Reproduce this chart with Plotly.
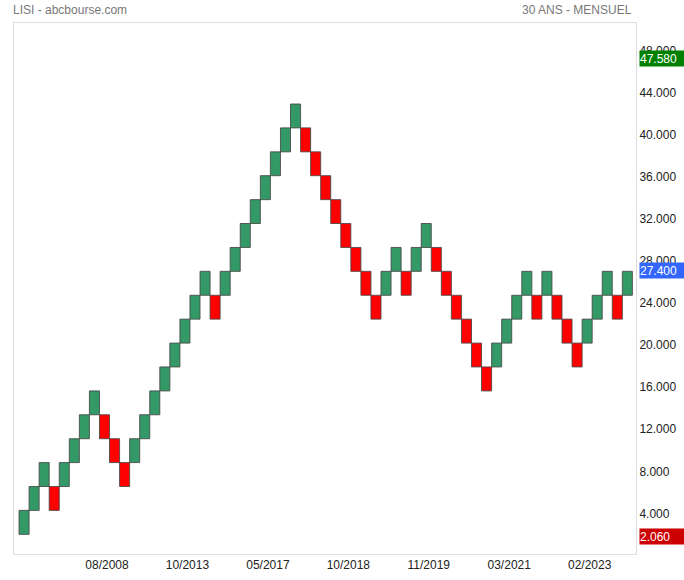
import plotly.graph_objects as go

# ---- data ----
brick_index = list(range(1, 62))
brick_low = [2.00, 4.28, 6.55, 4.28, 6.55, 8.83, 11.10, 13.38, 11.10, 8.83,
             6.55, 8.83, 11.10, 13.38, 15.65, 17.93, 20.20, 22.48, 24.75, 22.48,
             24.75, 27.03, 29.30, 31.58, 33.85, 36.13, 38.40, 40.68, 38.40, 36.13,
             33.85, 31.58, 29.30, 27.03, 24.75, 22.48, 24.75, 27.03, 24.75, 27.03,
             29.30, 27.03, 24.75, 22.48, 20.20, 17.93, 15.65, 17.93, 20.20, 22.48,
             24.75, 22.48, 24.75, 22.48, 20.20, 17.93, 20.20, 22.48, 24.75, 22.48,
             24.75]
brick_high = [4.28, 6.55, 8.83, 6.55, 8.83, 11.10, 13.38, 15.65, 13.38, 11.10,
              8.83, 11.10, 13.38, 15.65, 17.93, 20.20, 22.48, 24.75, 27.03, 24.75,
              27.03, 29.30, 31.58, 33.85, 36.13, 38.40, 40.68, 42.95, 40.68, 38.40,
              36.13, 33.85, 31.58, 29.30, 27.03, 24.75, 27.03, 29.30, 27.03, 29.30,
              31.58, 29.30, 27.03, 24.75, 22.48, 20.20, 17.93, 20.20, 22.48, 24.75,
              27.03, 24.75, 27.03, 24.75, 22.48, 20.20, 22.48, 24.75, 27.03, 24.75,
              27.03]
brick_dir = ["up", "up", "up", "down", "up", "up", "up", "up", "down", "down",
             "down", "up", "up", "up", "up", "up", "up", "up", "up", "down",
             "up", "up", "up", "up", "up", "up", "up", "up", "down", "down",
             "down", "down", "down", "down", "down", "down", "up", "up", "down", "up",
             "up", "down", "down", "down", "down", "down", "down", "up", "up", "up",
             "up", "down", "up", "down", "down", "down", "up", "up", "up", "down",
             "up"]

tick_positions = [9, 17, 25, 33, 41, 49, 57]
tick_labels = ["08/2008", "10/2013", "05/2017", "10/2018", "11/2019", "03/2021", "02/2023"]
y_ticks = [4, 8, 12, 16, 20, 24, 28, 32, 36, 40, 44, 48]

price_high = 47.58
price_last = 27.40
price_low = 2.06

title_left = "LISI - abcbourse.com"
title_right = "30 ANS - MENSUEL"

# ---- figure ----
GREEN = "#339966"
RED = "#ff0000"

heights = [h - l for l, h in zip(brick_low, brick_high)]
colors = [GREEN if d == "up" else RED for d in brick_dir]

fig = go.Figure()
fig.add_trace(go.Bar(
    x=brick_index, y=heights, base=brick_low, width=1,
    marker=dict(color=colors, line=dict(color="rgba(70,70,70,0.85)", width=1)),
    hoverinfo="skip", showlegend=False,
))

FONT = "Liberation Sans, Arial, sans-serif"

fig.update_layout(
    width=684, height=580,
    margin=dict(l=14, r=48, t=23, b=26),
    paper_bgcolor="white", plot_bgcolor="white",
    font=dict(family=FONT, size=12, color="#222"),
    bargap=0,
    xaxis=dict(
        range=[0, 61.86], showgrid=False, zeroline=False, automargin=False,
        tickvals=[p + 0.25 for p in tick_positions], ticktext=tick_labels,
        ticks="", showline=True, linecolor="#dddddd", linewidth=1, mirror=True,
        tickfont=dict(size=12, color="#222"),
    ),
    yaxis=dict(
        side="right", range=[0.13, 50.66], showgrid=False, zeroline=False, automargin=False,
        tickvals=y_ticks, ticktext=[f"{v:.3f}" for v in y_ticks],
        ticks="", showline=True, linecolor="#dddddd", linewidth=1, mirror=True,
        tickfont=dict(size=12, color="#222"),
    ),
)

annos = [
    dict(text=title_left, xref="paper", yref="paper", x=0, xshift=-3, y=1, yshift=13,
         xanchor="left", yanchor="middle", showarrow=False,
         font=dict(family=FONT, size=12, color="#777")),
    dict(text=title_right, xref="paper", yref="paper", x=1, xshift=-2, y=1, yshift=13,
         xanchor="right", yanchor="middle", showarrow=False,
         font=dict(family=FONT, size=12, color="#777")),
]
for val, col in [(price_high, "#008000"), (price_last, "#3366ff"), (price_low, "#cc0000")]:
    annos.append(dict(
        text=f"{val:.3f}", xref="paper", yref="y", x=1, xshift=3, y=val, yshift=-3,
        xanchor="left", yanchor="middle", showarrow=False, align="left",
        bgcolor=col, width=46, height=15, borderpad=0,
        font=dict(family=FONT, size=12, color="white"),
    ))
fig.update_layout(annotations=annos)

fig.write_html(
    "out.html",
    config={"displayModeBar": False, "staticPlot": True},
    post_script="document.body.style.margin='0';document.body.style.overflow='hidden';",
)
